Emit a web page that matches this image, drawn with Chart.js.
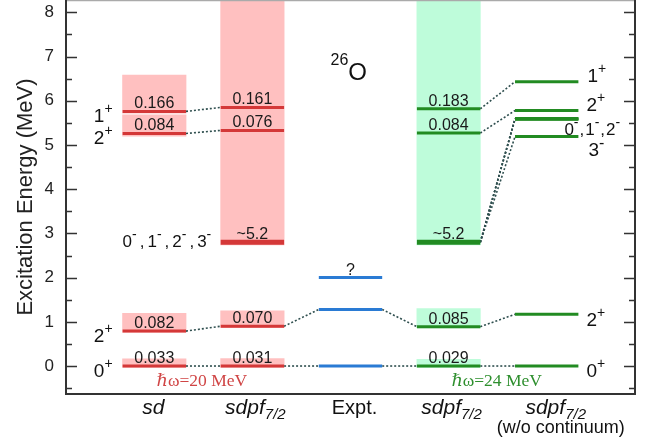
<!DOCTYPE html>
<html>
<head>
<meta charset="utf-8">
<script src="https://cdn.jsdelivr.net/npm/chart.js@4.4.0/dist/chart.umd.min.js"></script>
<style>
  html, body { margin: 0; padding: 0; background: #fff; }
  #wrap { width: 653px; height: 445px; }
</style>
</head>
<body>
<div id="wrap"><canvas id="c" width="653" height="445"></canvas></div>
<script>
// 26O excitation spectrum: shell-model columns vs. experiment

// column positions on the x scale
const colSd = 0, colSdpf20 = 1, colExpt = 2, colSdpf24 = 3, colBound = 4;

// sd shell
const sdLevels = [0, 0.79, 5.26, 5.76];
const sdSpins = ['0+', '2+', '2+', '1+'];
const sdWidths = ['0.033', '0.082', '0.084', '0.166'];
const sdBoxes = [[-0.03, 0.16], [0.76, 1.19], [5.20, 5.68], [5.72, 6.58]];

// sdpf7/2, hw = 20 MeV
const sdpf20Levels = [0, 0.90, 5.33, 5.85];
const sdpf20Widths = ['0.031', '0.070', '0.076', '0.161'];
const sdpf20Continuum = 2.80;
const sdpf20ContinuumWidth = '~5.2';
const sdpf20Boxes = [[-0.03, 0.17], [0.87, 1.25], [2.74, 9.0]];

// experiment
const exptLevels = [0, 1.28, 2.0];
const exptTags = ['', '', '?'];

// sdpf7/2, hw = 24 MeV
const sdpf24Levels = [0, 0.89, 5.27, 5.82];
const sdpf24Widths = ['0.029', '0.085', '0.084', '0.183'];
const sdpf24Continuum = 2.80;
const sdpf24ContinuumWidth = '~5.2';
const sdpf24Boxes = [[-0.03, 0.15], [0.86, 1.30], [2.74, 9.0]];

// sdpf7/2 without continuum coupling
const boundLevels = [0, 1.17, 5.19, 5.58, 5.59, 5.60, 5.78, 6.43];
const boundSpins = ['0+', '2+', '3-', '0-', '1-', '2-', '2+', '1+'];

const HW = 0.323;            // half length of a level bar (x units)
const RED = '#d43838', RED_BOX = '#ffc0c0';
const GREEN = '#228b22', GREEN_BOX = 'rgb(190,252,218)';
const BLUE = '#2a7bd4', LINK = '#2f4f4f';

function level(col, e, color, w) {
  return { type: 'line', data: [{ x: col - HW, y: e }, { x: col + HW, y: e }],
    borderColor: color, borderWidth: w || 3, pointRadius: 0, fill: false, order: 1 };
}
function link(c1, e1, c2, e2) {
  return { type: 'line', data: [{ x: c1 + HW, y: e1 }, { x: c2 - HW, y: e2 }],
    borderColor: LINK, borderWidth: 1.6, borderDash: [2, 2], pointRadius: 0, fill: false, order: 2 };
}
function boxes(col, list, color) {
  return { type: 'bar', data: list.map(b => ({ x: col, y: b })), backgroundColor: color,
    borderWidth: 0, barThickness: 63.5, grouped: false, order: 3 };
}

const datasets = [
  boxes(colSd, sdBoxes, RED_BOX),
  boxes(colSdpf20, sdpf20Boxes, RED_BOX),
  boxes(colSdpf24, sdpf24Boxes, GREEN_BOX),
];
// connectors
sdLevels.forEach((e, i) => datasets.push(link(colSd, e, colSdpf20, sdpf20Levels[i])));
[0, 1].forEach(i => datasets.push(link(colSdpf20, sdpf20Levels[i], colExpt, exptLevels[i])));
[0, 1].forEach(i => datasets.push(link(colExpt, exptLevels[i], colSdpf24, sdpf24Levels[i])));
datasets.push(link(colSdpf24, sdpf24Levels[0], colBound, boundLevels[0]));
datasets.push(link(colSdpf24, sdpf24Levels[1], colBound, boundLevels[1]));
[2, 3, 4, 5].forEach(i => datasets.push(link(colSdpf24, sdpf24Continuum, colBound, boundLevels[i])));
datasets.push(link(colSdpf24, sdpf24Levels[2], colBound, boundLevels[6]));
datasets.push(link(colSdpf24, sdpf24Levels[3], colBound, boundLevels[7]));
// levels
sdLevels.forEach(e => datasets.push(level(colSd, e, RED)));
sdpf20Levels.forEach(e => datasets.push(level(colSdpf20, e, RED)));
datasets.push(level(colSdpf20, sdpf20Continuum, RED, 5));
exptLevels.forEach(e => datasets.push(level(colExpt, e, BLUE)));
sdpf24Levels.forEach(e => datasets.push(level(colSdpf24, e, GREEN)));
datasets.push(level(colSdpf24, sdpf24Continuum, GREEN, 5));
boundLevels.forEach(e => datasets.push(level(colBound, e, GREEN)));

const SANS = '"Liberation Sans", Arial, sans-serif';
const SERIF = '"Liberation Serif", "DejaVu Serif", serif';

// draw a sequence of text runs; align 'left' | 'right' | 'center'
function runs(ctx, parts, x, y, align) {
  let total = 0;
  parts.forEach(p => { ctx.font = p.font; p.w = ctx.measureText(p.t).width + (p.pad || 0); total += p.w; });
  let cx = align === 'right' ? x - total : align === 'center' ? x - total / 2 : x;
  ctx.textAlign = 'left';
  ctx.textBaseline = 'alphabetic';
  parts.forEach(p => {
    ctx.font = p.font; ctx.fillStyle = p.color || '#111';
    ctx.fillText(p.t, cx, y - (p.dy || 0)); cx += p.w;
  });
}
// spin/parity label: +/- set as superscripts
function spin(ctx, text, x, y, align, size, pad) {
  const s = size || 19;
  const g = pad || 0;
  const parts = [];
  for (const ch of text) {
    if (ch === '+') parts.push({ t: '+', font: `${s - 5}px ${SANS}`, dy: 9 });
    else if (ch === '-') parts.push({ t: '-', font: `${s - 3}px ${SANS}`, dy: 8, pad: g });
    else if (ch === ',') parts.push({ t: ',', font: `${s}px ${SANS}`, pad: g });
    else parts.push({ t: ch, font: `${s}px ${SANS}` });
  }
  runs(ctx, parts, x, y, align);
}

const labels = {
  id: 'labels',
  afterDatasetsDraw(chart) {
    const { ctx, scales: { x, y } } = chart;
    const px = v => x.getPixelForValue(v);
    const py = v => y.getPixelForValue(v);
    ctx.save();
    const widthText = (col, e, t) => {
      ctx.font = `16px ${SANS}`; ctx.fillStyle = '#1a1a1a';
      ctx.textAlign = 'center'; ctx.textBaseline = 'alphabetic';
      ctx.fillText(t, px(col), py(e) - 3);
    };
    sdLevels.forEach((e, i) => widthText(colSd, e, sdWidths[i]));
    sdpf20Levels.forEach((e, i) => widthText(colSdpf20, e, sdpf20Widths[i]));
    widthText(colSdpf20, sdpf20Continuum, sdpf20ContinuumWidth);
    exptLevels.forEach((e, i) => exptTags[i] && widthText(colExpt, e, exptTags[i]));
    sdpf24Levels.forEach((e, i) => widthText(colSdpf24, e, sdpf24Widths[i]));
    widthText(colSdpf24, sdpf24Continuum, sdpf24ContinuumWidth);

    // spins on the left of the sd column
    const left = px(colSd - HW) - 10;
    sdLevels.forEach((e, i) => spin(ctx, sdSpins[i], left, py(e) + 11, 'right'));
    spin(ctx, '0-,1-,2-,3-', px(colSd - HW), py(sdpf20Continuum) + 5, 'left', 17, 3);

    // spins on the right of the bound column
    const right = px(colBound + HW) + 8;
    spin(ctx, boundSpins[0], right, py(boundLevels[0]) + 11, 'left');
    spin(ctx, boundSpins[1], right, py(boundLevels[1]) + 12, 'left');
    spin(ctx, boundSpins[2], right + 2, py(boundLevels[2]) + 19, 'left');
    spin(ctx, boundSpins.slice(3, 6).join(','), right - 22, py(boundLevels[4]) + 16, 'left', 17, 1);
    spin(ctx, boundSpins[6], right, py(boundLevels[6]), 'left');
    spin(ctx, boundSpins[7], right + 1, py(boundLevels[7]), 'left');

    // nucleus
    runs(ctx, [{ t: '26', font: `16px ${SANS}`, dy: 15 }, { t: 'O', font: `24px ${SANS}` }],
      px(colExpt) - 20, py(6.6) + 6, 'left');

    // oscillator parameters
    runs(ctx, [{ t: '\u210Fω=20 MeV', font: `17.5px ${SERIF}`, color: '#d04545' }],
      px(0.485), 386, 'center');
    runs(ctx, [{ t: '\u210Fω=24 MeV', font: `17.5px ${SERIF}`, color: '#2e8f2e' }],
      px(3.49), 386, 'center');

    // column names
    const it = `italic 21px ${SANS}`, sub = `italic 15px ${SANS}`;
    runs(ctx, [{ t: 'sd', font: it }], px(colSd) - 1, 414, 'center');
    runs(ctx, [{ t: 'sdpf', font: it }, { t: '7/2', font: sub, dy: -5 }], px(colSdpf20) + 3, 414, 'center');
    runs(ctx, [{ t: 'Expt.', font: `20px ${SANS}` }], px(colExpt) + 4, 414, 'center');
    runs(ctx, [{ t: 'sdpf', font: it }, { t: '7/2', font: sub, dy: -5 }], px(colSdpf24) + 3, 414, 'center');
    runs(ctx, [{ t: 'sdpf', font: it }, { t: '7/2', font: sub, dy: -5 }], px(colBound) + 9, 414, 'center');
    runs(ctx, [{ t: '(w/o continuum)', font: `18px ${SANS}` }], px(colBound) + 14, 433, 'center');

    // y title
    ctx.save();
    ctx.translate(32, (chart.chartArea.top + chart.chartArea.bottom) / 2);
    ctx.rotate(-Math.PI / 2);
    ctx.font = `22px ${SANS}`; ctx.fillStyle = '#222';
    ctx.textAlign = 'center'; ctx.textBaseline = 'alphabetic';
    ctx.fillText('Excitation Energy (MeV)', 0, 0);
    ctx.restore();
    ctx.restore();
  }
};

const frame = {
  id: 'frame',
  afterDraw(chart) {
    const { ctx, chartArea: a, scales: { y } } = chart;
    ctx.save();
    ctx.strokeStyle = '#aaa'; ctx.lineWidth = 1.5;
    ctx.beginPath(); ctx.moveTo(a.left, 0.5); ctx.lineTo(a.right, 0.5); ctx.stroke();
    ctx.strokeStyle = '#333'; ctx.lineWidth = 2;
    ctx.beginPath();
    ctx.moveTo(a.left, a.top); ctx.lineTo(a.left, a.bottom); ctx.lineTo(a.right, a.bottom); ctx.lineTo(a.right, a.top);
    ctx.stroke();
    ctx.lineWidth = 1.5;
    for (let v = -0.5; v <= 8.001; v += 0.5) {
      const yy = Math.round(y.getPixelForValue(v)) + 0.5;
      const len = Number.isInteger(v) ? 11 : 6;
      ctx.beginPath();
      ctx.moveTo(a.left, yy); ctx.lineTo(a.left + len, yy);
      ctx.moveTo(a.right, yy); ctx.lineTo(a.right - len, yy);
      ctx.stroke();
    }
    ctx.restore();
  }
};

new Chart(document.getElementById('c'), {
  type: 'line',
  data: { datasets },
  options: {
    responsive: false,
    animation: false,
    layout: { padding: { top: 0, right: 18, bottom: 51, left: 0 } },
    plugins: { legend: { display: false }, tooltip: { enabled: false } },
    scales: {
      x: { type: 'linear', min: -0.9, max: 4.9, offset: false, display: false },
      y: {
        type: 'linear', min: -0.633, max: 8.28,
        grid: { display: false, drawTicks: false },
        border: { display: false },
        afterBuildTicks: s => { s.ticks = [0, 1, 2, 3, 4, 5, 6, 7, 8].map(v => ({ value: v })); },
        afterFit: s => { s.width = 66; s.paddingTop = 0; s.paddingBottom = 0; },
        ticks: { font: { size: 17, family: SANS }, color: '#222', padding: 12 }
      }
    }
  },
  plugins: [labels, frame]
});
</script>
</body>
</html>
